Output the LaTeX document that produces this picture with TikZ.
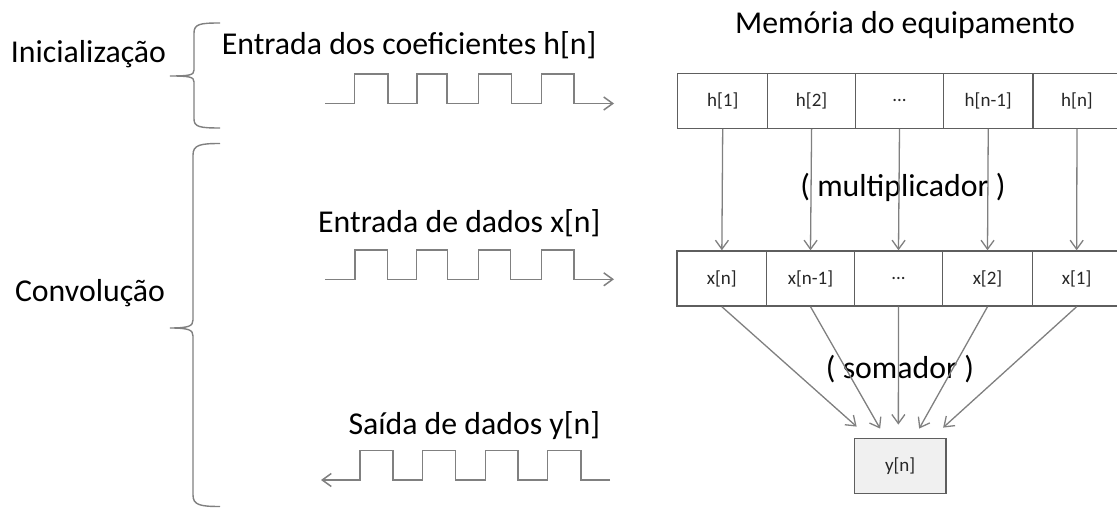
\documentclass[tikz,border=0pt]{standalone}
\usepackage{fontspec}
\setmainfont{Carlito}
\usetikzlibrary{arrows.meta,calc}
\definecolor{linegray}{HTML}{808080}
\definecolor{boxgray}{HTML}{5E5E5E}
\definecolor{fillgray}{HTML}{F0F0F0}
\definecolor{celltext}{HTML}{262626}
\tikzset{
  biglabel/.style={font=\fontsize{31.8}{38}\selectfont, inner sep=0pt},
  cell/.style={draw=boxgray, line width=1.4pt, minimum height=55pt, inner sep=0pt,
    font=\fontsize{19}{23}\selectfont, text=celltext},
  wave/.style={draw=linegray, line width=1.5pt},
  conn/.style={draw=linegray, line width=1.3pt},
  tipbarb/.style={-{Straight Barb[length=9pt,width=13pt]}},
  bracestyle/.style={draw=linegray, line width=1.4pt},
}
\begin{document}
\begin{tikzpicture}[x=1pt,y=-1pt]
\fill[white] (0,0) rectangle (1117,510);
\useasboundingbox (0,0) rectangle (1117,510);

% ---- labels
\node[biglabel, anchor=base] (ini) at (88.5,63) {Inicialização};
\node[biglabel, anchor=base] (conv) at (90,301.5) {Convolução};
\node[biglabel, anchor=base west] (enth) at (221.7,55) {Entrada dos coeficientes h[n]};
\node[biglabel, anchor=base west] (entx) at (318,233) {Entrada de dados x[n]};
\node[biglabel, anchor=base west] (saiy) at (348.3,435) {Saída de dados y[n]};
\node[biglabel, anchor=base] (mem) at (905,34) {Memória do equipamento};

% ---- braces
\draw[bracestyle] (220,23) .. controls (200,23) and (194,24) .. (194,33) -- (194,70)
  .. controls (194,75) and (190,76) .. (170,76)
  .. controls (190,76) and (194,77) .. (194,82) -- (194,119)
  .. controls (194,127) and (200,128) .. (220,128);
\draw[bracestyle] (220,143.5) .. controls (200,143.5) and (193,145) .. (193,155) -- (193,320)
  .. controls (193,326) and (189,328) .. (170,328)
  .. controls (189,328) and (193,330) .. (193,336) -- (193,495)
  .. controls (193,505) and (200,506.5) .. (220,506.5);

% ---- waveforms
\draw[wave, tipbarb] (325,103.5) -- (354.5,103.5) -- (354.5,74) -- (388,74) -- (388,103.5)
  -- (417,103.5) -- (417,74) -- (447,74) -- (447,103.5) -- (478.5,103.5) -- (478.5,74)
  -- (511.5,74) -- (511.5,103.5) -- (541.5,103.5) -- (541.5,74) -- (574,74) -- (574,103.5)
  -- (614,103.5);
\draw[wave, tipbarb] (325,279.3) -- (355,279.3) -- (355,250) -- (387.5,250) -- (387.5,279.3)
  -- (416.7,279.3) -- (416.7,250) -- (447.7,250) -- (447.7,279.3) -- (478.3,279.3) -- (478.3,250)
  -- (510.7,250) -- (510.7,279.3) -- (541.7,279.3) -- (541.7,250) -- (574,250) -- (574,279.3)
  -- (614,279.3);
\draw[wave, tipbarb] (610,480) -- (581,480) -- (581,450.7) -- (547.7,450.7) -- (547.7,480)
  -- (518,480) -- (518,450.7) -- (485.7,450.7) -- (485.7,480) -- (455.7,480) -- (455.7,450.7)
  -- (422.7,450.7) -- (422.7,480) -- (393,480) -- (393,450.7) -- (360,450.7) -- (360,480)
  -- (321,480);

% ---- memory cells: coefficients
\node[cell, minimum width=90pt]   (h1) at (722.7,100.8) {h[1]};
\node[cell, minimum width=87.8pt] (h2) at (811.6,100.8) {h[2]};
\node[cell, minimum width=88pt]   (h3) at (899.5,100.8) {...};
\node[cell, minimum width=89.5pt] (h4) at (988.25,100.8) {h[n-1]};
\node[cell, minimum width=88pt]   (h5) at (1077,100.8) {h[n]};

% ---- memory cells: data
\node[cell, minimum width=89.7pt] (x1) at (721.85,278.5) {x[n]};
\node[cell, minimum width=87.6pt] (x2) at (810.5,278.5) {x[n-1]};
\node[cell, minimum width=88.4pt] (x3) at (898.5,278.5) {...};
\node[cell, minimum width=89.6pt] (x4) at (987.5,278.5) {x[2]};
\node[cell, minimum width=88.7pt] (x5) at (1076.65,278.5) {x[1]};

% ---- output cell
\node[cell, fill=fillgray, minimum width=91.7pt] (yn) at (900.15,465.8) {y[n]};

% ---- operation labels
\node[biglabel] (mult) at (903,187) {( multiplicador )};
\node[biglabel] (soma) at (900,369) {( somador )};

% ---- multiplier arrows
\foreach \i in {1,...,5}{
  \draw[conn, tipbarb] (h\i.south) -- (x\i.north);
}

% ---- adder arrows
\coordinate (t1) at ([xshift=-43.5pt,yshift=11pt]yn.north);
\coordinate (t2) at ([xshift=-20pt,yshift=9pt]yn.north);
\coordinate (t3) at ([xshift=-1.8pt,yshift=13pt]yn.north);
\coordinate (t4) at ([xshift=19pt,yshift=9pt]yn.north);
\coordinate (t5) at ([xshift=43pt,yshift=10pt]yn.north);
\foreach \i in {1,...,5}{
  \draw[conn, tipbarb] (x\i.south) -- (t\i);
}
\end{tikzpicture}
\end{document}
